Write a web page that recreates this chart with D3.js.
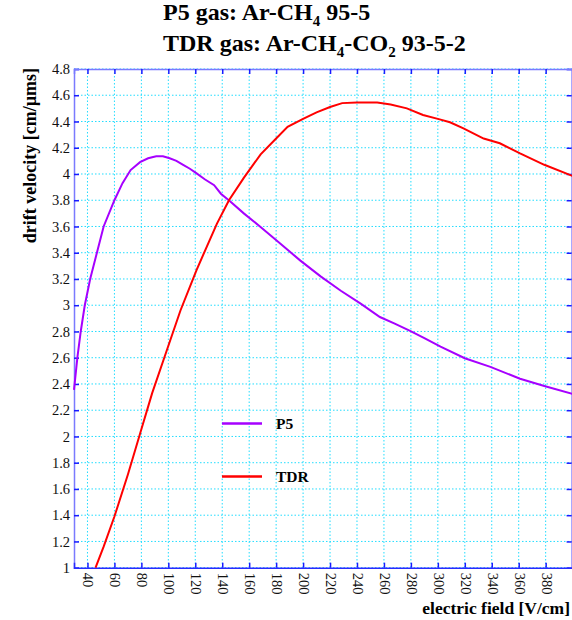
<!DOCTYPE html>
<html lang="en">
<head>
    <meta charset="UTF-8">
    <title>Drift velocity</title>
    <script src="https://d3js.org/d3.v7.min.js"></script>
    <style>
        body { margin: 0; background: #fff; }
        text { font-family: "Liberation Serif", "Times New Roman", serif; }
    </style>
</head>
<body>
    <div id="chart"></div>
    <script>
        // values
        var p5Field = [30, 32.5, 35, 38, 42, 47, 52, 60, 66, 72, 79, 85, 91, 96, 101, 106, 111, 116, 121, 127, 134, 139, 146, 156, 168, 183, 198, 213, 228, 243, 257, 268, 279, 290, 302, 320, 339, 361, 379, 400];
        var p5Velocity = [2.355, 2.6, 2.8, 3.0, 3.2, 3.4, 3.6, 3.8, 3.93, 4.03, 4.09, 4.12, 4.135, 4.135, 4.12, 4.1, 4.07, 4.04, 4.005, 3.96, 3.915, 3.85, 3.79, 3.70, 3.60, 3.47, 3.34, 3.22, 3.11, 3.01, 2.91, 2.86, 2.806, 2.75, 2.684, 2.596, 2.53, 2.44, 2.385, 2.324];

        var tdrField = [46, 52, 60, 70, 79, 88, 98, 109, 121, 136, 145, 156, 168.5, 180, 188.5, 200, 210, 220, 229, 240, 255, 265, 277, 289, 300, 309, 319, 334, 346, 361, 379, 400];
        var tdrVelocity = [1.0, 1.16, 1.39, 1.71, 2.02, 2.33, 2.63, 2.96, 3.27, 3.62, 3.80, 3.97, 4.15, 4.27, 4.36, 4.42, 4.47, 4.51, 4.54, 4.545, 4.545, 4.53, 4.50, 4.45, 4.42, 4.394, 4.348, 4.27, 4.234, 4.157, 4.07, 3.985];

        var xTicks = [40, 60, 80, 100, 120, 140, 160, 180, 200, 220, 240, 260, 280, 300, 320, 340, 360, 380];
        var yTicks = [1, 1.2, 1.4, 1.6, 1.8, 2, 2.2, 2.4, 2.6, 2.8, 3, 3.2, 3.4, 3.6, 3.8, 4, 4.2, 4.4, 4.6, 4.8];

        var seriesNames = ["P5", "TDR"];
        var seriesColors = ["#a600ff", "#ff0000"];

        var plotLeft = 74, plotRight = 572.6, plotTop = 69, plotBottom = 567.7;

        var svg = d3.select("#chart")
            .append("svg")
            .attr("width", 572)
            .attr("height", 620);

        var x = d3.scaleLinear().domain([30, 400]).range([plotLeft, plotRight]);
        var y = d3.scaleLinear().domain([1, 4.8]).range([plotBottom, plotTop]);

        // grid
        var grid = svg.append("g")
            .attr("stroke", "#22ddff")
            .attr("stroke-width", 1)
            .attr("stroke-dasharray", "1.5,2");
        grid.selectAll(".gx").data(xTicks).enter().append("line")
            .attr("x1", function (d) { return x(d); })
            .attr("x2", function (d) { return x(d); })
            .attr("y1", plotTop)
            .attr("y2", plotBottom);
        grid.selectAll(".gy").data(yTicks).enter().append("line")
            .attr("x1", plotLeft)
            .attr("x2", plotRight)
            .attr("y1", function (d) { return y(d); })
            .attr("y2", function (d) { return y(d); });

        // axes (ticks pointing inward)
        var axLeft = svg.append("g")
            .attr("transform", "translate(" + plotLeft + ",0)")
            .call(d3.axisLeft(y).tickValues(yTicks).tickSize(-5).tickPadding(4).tickFormat(d3.format("")));
        var axRight = svg.append("g")
            .attr("transform", "translate(" + (plotRight - 1) + ",0)")
            .call(d3.axisRight(y).tickValues(yTicks).tickSize(-5).tickFormat(""));
        var axTop = svg.append("g")
            .attr("transform", "translate(0," + plotTop + ")")
            .call(d3.axisTop(x).tickValues(xTicks).tickSize(-5).tickFormat(""));
        var axBottom = svg.append("g")
            .attr("transform", "translate(0," + plotBottom + ")")
            .call(d3.axisBottom(x).tickValues(xTicks).tickSize(-5).tickFormat(d3.format("")));

        [axLeft, axRight, axTop, axBottom].forEach(function (a) {
            a.select(".domain").attr("stroke", "#7a7aff").attr("stroke-width", 1.5);
            a.selectAll(".tick line").attr("stroke", "#1a1aff").attr("stroke-width", 1.5);
            a.selectAll("text")
                .style("font-family", "'Liberation Serif', serif")
                .style("font-size", "14.5px")
                .attr("fill", "#111");
        });
        axBottom.select(".domain").attr("stroke", "#2a2aff");

        axBottom.selectAll(".tick text")
            .attr("transform", "rotate(90)")
            .attr("x", 5)
            .attr("y", 0)
            .attr("dy", "0.32em")
            .attr("text-anchor", "start");

        // curves
        var line = d3.line()
            .x(function (d) { return x(d[0]); })
            .y(function (d) { return y(d[1]); });

        var p5 = d3.zip(p5Field, p5Velocity);
        var tdr = d3.zip(tdrField, tdrVelocity);

        var plot = svg.append("g");
        plot.append("path")
            .datum(p5)
            .attr("fill", "none")
            .attr("stroke", seriesColors[0])
            .attr("stroke-width", 2)
            .attr("d", line);
        plot.append("path")
            .datum(tdr)
            .attr("fill", "none")
            .attr("stroke", seriesColors[1])
            .attr("stroke-width", 2)
            .attr("d", line);

        // legend
        var legendY = [423.5, 476.5];
        seriesNames.forEach(function (name, i) {
            svg.append("line")
                .attr("x1", 222)
                .attr("x2", 262)
                .attr("y1", legendY[i])
                .attr("y2", legendY[i])
                .attr("stroke", seriesColors[i])
                .attr("stroke-width", 2.5);
            svg.append("text")
                .attr("x", 276)
                .attr("y", legendY[i] + 5.5)
                .style("font-size", "15.5px")
                .style("font-weight", "bold")
                .text(name);
        });

        // axis labels
        svg.append("text")
            .attr("transform", "rotate(-90)")
            .attr("x", -68)
            .attr("y", 36)
            .attr("text-anchor", "end")
            .style("font-size", "18px")
            .style("font-weight", "bold")
            .text("drift velocity [cm/\u00b5ms]");

        svg.append("text")
            .attr("x", 570)
            .attr("y", 614)
            .attr("text-anchor", "end")
            .style("font-size", "17.5px")
            .style("font-weight", "bold")
            .text("electric field [V/cm]");

        // title with subscripts
        var t1 = svg.append("text")
            .attr("x", 163)
            .attr("y", 20)
            .style("font-size", "24px")
            .style("font-weight", "bold");
        t1.append("tspan").text("P5 gas: Ar-CH");
        t1.append("tspan").attr("dy", 6).style("font-size", "15px").text("4");
        t1.append("tspan").attr("dy", -6).text(" 95-5");

        var t2 = svg.append("text")
            .attr("x", 163)
            .attr("y", 51)
            .style("font-size", "24px")
            .style("font-weight", "bold");
        t2.append("tspan").text("TDR gas: Ar-CH");
        t2.append("tspan").attr("dy", 6).style("font-size", "15px").text("4");
        t2.append("tspan").attr("dy", -6).text("-CO");
        t2.append("tspan").attr("dy", 6).style("font-size", "15px").text("2");
        t2.append("tspan").attr("dy", -6).text(" 93-5-2");
    </script>
</body>
</html>
